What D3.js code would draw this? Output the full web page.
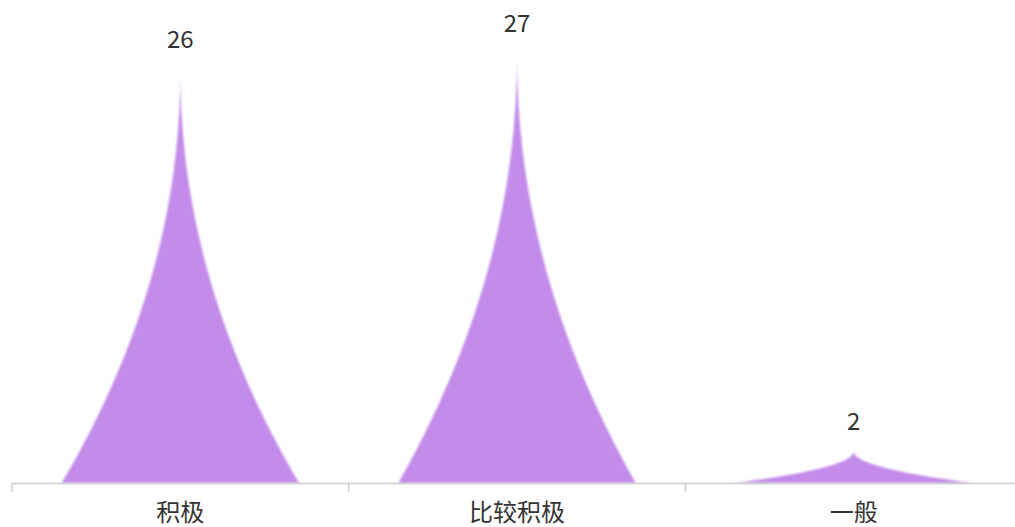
<!DOCTYPE html>
<html>
<head>
<meta charset="utf-8">
<script src="https://cdnjs.cloudflare.com/ajax/libs/d3/7.8.5/d3.min.js"></script>
<style>
    html, body { margin: 0; padding: 0; background: #fff; }
    text { font-family: "Microsoft YaHei", "Noto Sans CJK SC", "Noto Sans", sans-serif; }
</style>
</head>
<body>
<div id="chart"></div>
<script>
// data
let categories = ["积极", "比较积极", "一般"];
let values = [26, 27, 2];

let w = 1015, h = 527;
// grid is a little wider than the window, like the original
let left = 12, right = 1022;
let base_y = 483, top_y = 53;

let svg = d3.select("#chart")
    .append("svg")
    .attr("width", w)
    .attr("height", h);

let x = d3.scaleBand()
    .domain(categories)
    .range([left, right])
    .paddingInner(0)
    .paddingOuter(0);

let y = d3.scaleLinear()
    .domain([0, 27])
    .range([base_y, top_y]);

// soft edges
let defs = svg.append("defs");
defs.append("filter")
    .attr("id", "soft")
    .attr("x", "-20%").attr("y", "-20%")
    .attr("width", "140%").attr("height", "140%")
    .append("feGaussianBlur")
    .attr("stdDeviation", 1.3);

// peak shape: width shrinks with height, concave sides
let peak_ratio = 0.705;
function peakPath(cx, y0, y1, bw) {
    let pts = [];
    let n = 60;
    for (let i = 0; i <= n; i++) {
        let t = i / n;
        pts.push([cx + (bw / 2) * Math.pow(1 - t, 2.05), y0 + (y1 - y0) * t]);
    }
    for (let i = n - 1; i >= 0; i--) {
        let t = i / n;
        pts.push([cx - (bw / 2) * Math.pow(1 - t, 2.05), y0 + (y1 - y0) * t]);
    }
    return d3.line()(pts) + "Z";
}

svg.append("g")
    .selectAll("path")
    .data(values)
    .enter()
    .append("path")
    .attr("d", (d, i) => {
        let cx = x(categories[i]) + x.bandwidth() / 2;
        return peakPath(cx, y(0), y(d), x.bandwidth() * peak_ratio);
    })
    .attr("fill", "#c38cea")
    .attr("filter", "url(#soft)");

// value labels
svg.append("g")
    .selectAll("text")
    .data(values)
    .enter()
    .append("text")
    .attr("x", (d, i) => x(categories[i]) + x.bandwidth() / 2)
    .attr("y", d => y(d) - 21)
    .attr("text-anchor", "middle")
    .attr("font-size", 24)
    .attr("fill", "#333")
    .text(d => d);

// x axis
let axis = svg.append("g")
    .attr("transform", "translate(0," + base_y + ")")
    .call(d3.axisBottom(x).tickSize(0).tickPadding(21));
axis.select(".domain").attr("stroke", "#ccc").attr("stroke-width", 1.5);
axis.selectAll("text")
    .attr("font-size", 24)
    .attr("fill", "#333")
    .attr("dy", "0.71em");

// boundary ticks between categories
let tick_x = categories.map(c => x(c)).concat([right]);
axis.selectAll(".bound")
    .data(tick_x)
    .enter()
    .append("line")
    .attr("class", "bound")
    .attr("x1", d => d).attr("x2", d => d)
    .attr("y1", 0).attr("y2", 9)
    .attr("stroke", "#ccc")
    .attr("stroke-width", 1.5);
</script>
</body>
</html>
